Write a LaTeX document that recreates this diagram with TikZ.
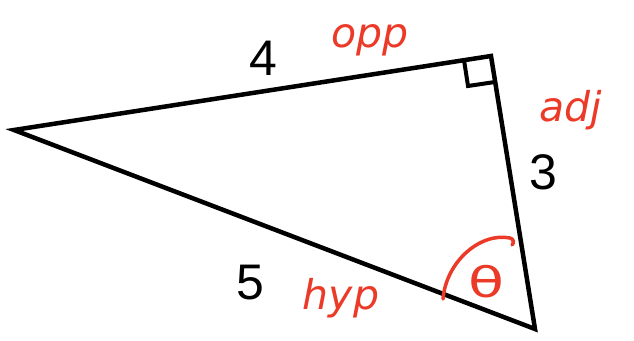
\documentclass[tikz,border=0pt]{standalone}
\usepackage{fontspec}
\setmainfont{Liberation Sans}
\newfontfamily\handfont{DejaVu Sans}
\definecolor{penred}{RGB}{236,58,40}
\begin{document}
\begin{tikzpicture}[x=1pt,y=-1pt,
  edge/.style={line width=4.5pt,line join=miter,black},
  num/.style={font=\fontsize{50}{50}\selectfont,black},
  hand/.style={font=\handfont\itshape\fontsize{41}{41}\selectfont,text=penred},
  redline/.style={draw=penred,line width=3.5pt,line cap=round}]
\useasboundingbox (0,0) rectangle (634,340);
\coordinate (A) at (14,130);
\coordinate (B) at (491,56);
\coordinate (C) at (535,329);
\draw[edge] (A) -- (B) -- (C) -- cycle;
\coordinate (S1) at (464,60);
\coordinate (S2) at (468,86);
\coordinate (S3) at (495,82);
\draw[line width=4pt] (S1) -- (S2) -- (S3);
\node[num] (n4) at (263,58) {4};
\node[num] (n3) at (543,172) {3};
\node[num] (n5) at (250,283) {5};
\node[hand] (opp) at (370,40) {opp};
\node[hand] (adj) at (571,110) {adj};
\node[hand] (hyp) at (341,298) {hyp};
\node[text=penred,font=\handfont\fontsize{42}{42}\selectfont,xscale=1.4,transform shape] (th) at (486,282) {θ};
\draw[redline] (443,299) .. controls (446,262) and (480,232) .. (510,238) .. controls (514,239) and (514,243) .. (512,245);
\end{tikzpicture}
\end{document}
